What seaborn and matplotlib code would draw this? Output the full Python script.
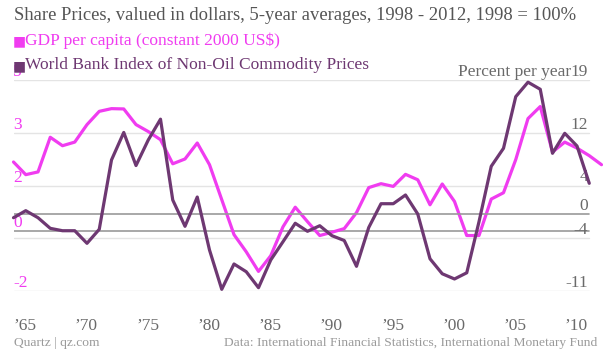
import matplotlib
matplotlib.use('Agg')
import matplotlib.pyplot as plt
import matplotlib.transforms as mtransforms
import numpy as np
import pandas as pd
import seaborn as sns

# data
years = list(range(1965, 2014))
gdp = [2.28, 1.86, 1.95, 3.10, 2.82, 2.94, 3.52, 3.96, 4.05, 4.04,
       3.52, 3.29, 3.02, 2.22, 2.38, 2.91, 2.19, 1.03, -0.13, -0.70,
       -1.35, -0.83, 0.13, 0.78, 0.30, -0.16, -0.05, 0.07, 0.60, 1.43,
       1.56, 1.47, 1.87, 1.69, 0.86, 1.55, 0.97, -0.16, -0.16, 1.05,
       1.26, 2.36, 3.72, 4.12, 2.61, 2.94, 2.74, 2.49, 2.19]
commodity = [-0.58, 0.42, -0.58, -2.09, -2.43, -2.43, -4.22, -2.23, 7.63, 11.54,
             6.84, 10.47, 13.43, 1.94, -1.80, 2.36, -5.17, -10.76, -7.16, -8.26,
             -10.53, -6.59, -3.99, -1.37, -2.51, -1.72, -3.14, -3.82, -7.49, -1.97,
             1.41, 1.41, 2.65, -0.05, -6.42, -8.55, -9.29, -8.41, -1.15, 6.73,
             9.29, 16.63, 18.69, 17.68, 8.58, 11.42, 9.62, 4.31, np.nan]

left_grid = [5, 3.25, 1.5, -0.25, -2]
left_ticks = [5, 3.25, 1.5, 0, -2]
left_labels = ['5', '3', '2', '0', '-2']
right_ticks = [19, 11.5, 4, 0, -3.5, -11]
right_labels = ['19', '12', '4', '0', '-4', '-11']
xtick_years = [1965, 1970, 1975, 1980, 1985, 1990, 1995, 2000, 2005, 2010]
xtick_labels = ['\u201965', '\u201970', '\u201975', '\u201980', '\u201985',
                '\u201990', '\u201995', '\u201900', '\u201905', '\u201910']

sns.set_style('white')
plt.rcParams['font.family'] = ['Liberation Serif', 'DejaVu Sans']

PINK = '#f03cf0'
PURPLE = '#6e3872'
GRAY = '#6a6a6a'
LIGHT = '#e4e4e4'
DARK = '#9a9a9a'

W, H = 603, 351
fig = plt.figure(figsize=(W / 100, H / 100), dpi=100)
ax = fig.add_axes([13.5 / W, 1 - 291 / H, 588 / W, 211 / H])
ax2 = ax.twinx()

df = pd.DataFrame({'year': years, 'gdp': gdp, 'commodity': commodity})
sns.lineplot(data=df, x='year', y='gdp', color=PINK, lw=2.3, ax=ax, clip_on=False)
sns.lineplot(data=df, x='year', y='commodity', color=PURPLE, lw=2.3, ax=ax2, clip_on=False)

ax.set_xlim(1965, 2013)
ax.set_ylim(-2, 5)
ax2.set_ylim(-11, 19)
ax.set_xlabel('')
ax.set_ylabel('')
ax2.set_ylabel('')

gx = 47 / 48
for v in left_grid:
    ax.axhline(v, xmax=gx, color=LIGHT, lw=1, zorder=0)
ax.axhline(0, xmax=gx, color=DARK, lw=1.2, zorder=0)
ax2.axhline(0, xmax=gx, color=DARK, lw=1.2, zorder=0)

for a in (ax, ax2):
    for s in a.spines.values():
        s.set_visible(False)
ax.spines['bottom'].set_position(('outward', 12))

ax.set_yticks(left_ticks, left_labels)
ax.tick_params(axis='y', length=0, pad=0.3, labelcolor=PINK, labelsize=12.5)
for t in ax.get_yticklabels():
    t.set_ha('left')
    t.set_va('bottom')

ax2.set_yticks(right_ticks, right_labels)
ax2.tick_params(axis='y', length=0, pad=-9.8, labelcolor=GRAY, labelsize=12.5)
for t in ax2.get_yticklabels():
    t.set_ha('right')
    t.set_va('bottom')

ax.set_xticks(xtick_years, xtick_labels)
ax.tick_params(axis='x', length=4.5, width=0.8, color='#d0d0d0', pad=3,
               labelcolor=GRAY, labelsize=12.5)
for t in ax.get_xticklabels():
    t.set_ha('left')

trans = mtransforms.blended_transform_factory(ax2.transAxes, ax2.transData)
ax2.text(0.948, 19, 'Percent per year', transform=trans, ha='right', va='bottom',
         color=GRAY, fontsize=12.5)

fig.text(14 / W, 1 - 16 / H, 'Share Prices, valued in dollars, 5-year averages, 1998 - 2012, 1998 = 100%',
         ha='left', va='center', color='#555555', fontsize=13.4)
fig.text(13 / W, 1 - 41 / H, '\u25a0', ha='left', va='center', color=PINK, fontsize=10,
         family='DejaVu Sans')
fig.text(25 / W, 1 - 41 / H, 'GDP per capita (constant 2000 US$)', ha='left', va='center',
         color=PINK, fontsize=12.5)
fig.text(13 / W, 1 - 66 / H, '\u25a0', ha='left', va='center', color=PURPLE, fontsize=10,
         family='DejaVu Sans')
fig.text(25 / W, 1 - 65 / H, 'World Bank Index of Non-Oil Commodity Prices', ha='left',
         va='center', color=PURPLE, fontsize=12.5)

fig.text(14 / W, 1 - 343 / H, 'Quartz | qz.com', ha='left', va='center', color='#9a9a9a',
         fontsize=9.7)
fig.text(597 / W, 1 - 343 / H,
         'Data: International Financial Statistics, International Monetary Fund',
         ha='right', va='center', color='#9a9a9a', fontsize=9.7)

fig.savefig('out.png', dpi=100)
